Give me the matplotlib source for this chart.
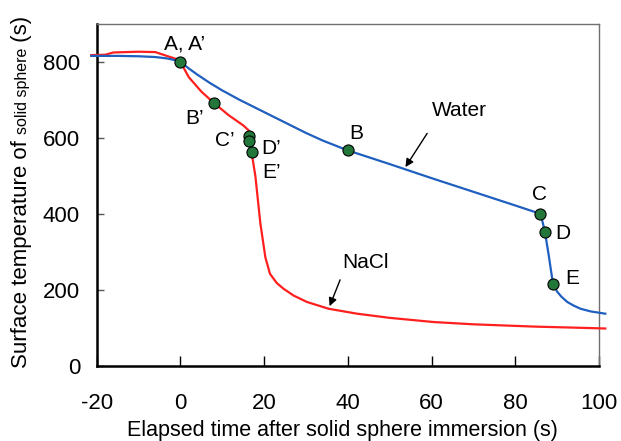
import matplotlib
matplotlib.use("Agg")
import matplotlib.pyplot as plt

plt.rcParams['font.family'] = ['Liberation Sans', 'DejaVu Sans']

# Water (blue) curve
water_t = [-21.3, -15, -10, -6, -3, -1, 0, 2, 4, 7, 10, 14, 18, 22, 26, 30, 34, 40, 50, 60, 70, 80, 86,
           86.6, 87.1, 88, 89, 90, 91, 92.4, 94, 95.6, 98, 101.5]
water_T = [816, 816, 815, 813, 809, 804, 800, 783, 767, 745, 725, 701, 679, 657, 635, 613, 593, 567, 531, 494, 458, 422, 400,
           375, 351, 290, 216, 195, 182, 168, 158, 150, 143, 137]

# NaCl (red) curve
nacl_t = [-21.3, -18, -16, -10, -6, -3, -1, 0, 2, 5, 8, 11.5, 15, 16.3, 16.5, 16.6, 17.0,
          17.9, 19.1, 20.3, 21.4, 23, 24.6, 27, 30.2, 35.4, 42.2, 50, 60.5, 70, 84.5, 95, 101.5]
nacl_T = [818, 819, 825, 827, 826, 815, 808, 800, 760, 722, 692, 660, 633, 620, 605, 591, 562,
          500, 375, 285, 242, 218, 203, 185, 168, 150, 137, 126, 115, 109, 103, 100, 98]

# Marked points
water_pts_t = [0, 40, 86, 87.1, 89]
water_pts_T = [800, 567, 400, 351, 216]
nacl_pts_t = [8, 16.4, 16.5, 17.0]
nacl_pts_T = [692, 604, 591, 562]

x_ticks = [-20, 0, 20, 40, 60, 80, 100]
y_ticks = [0, 200, 400, 600, 800]

W, H = 621, 441
fig = plt.figure(figsize=(W / 100, H / 100), dpi=100)
ax = fig.add_axes([96.7 / W, 1 - 365.7 / H, (599 - 96.7) / W, (365.7 - 24) / H])

blue = '#1f5fbf'
red = '#ff1f1f'
green = '#23773a'

ax.plot(nacl_t, nacl_T, color=red, lw=1.6, clip_on=False, zorder=3)
ax.plot(water_t, water_T, color=blue, lw=1.6, clip_on=False, zorder=3)
ax.plot(water_pts_t, water_pts_T, 'o', ms=8, mfc=green, mec='black', mew=0.8, zorder=5, clip_on=False)
ax.plot(nacl_pts_t, nacl_pts_T, 'o', ms=8, mfc=green, mec='black', mew=0.8, zorder=5, clip_on=False)

ax.set_xlim(-20, 100)
ax.set_ylim(0, 900)
ax.set_xticks(x_ticks)
ax.set_yticks(y_ticks)
ax.set_xticklabels([str(v) for v in x_ticks])
ax.set_yticklabels([str(v) for v in y_ticks])
ax.tick_params(axis='x', direction='in', length=7, width=1.0, pad=20, labelsize=16)
ax.tick_params(axis='y', direction='in', length=5, width=1.0, pad=12, labelsize=16, color='#555555')

for s in ['left', 'bottom']:
    ax.spines[s].set_linewidth(1.8)
    ax.spines[s].set_color('black')
for s in ['top', 'right']:
    ax.spines[s].set_linewidth(1.0)
    ax.spines[s].set_color('#707070')

fs = 15
labels = [("A, A\u2019", 0.9, 848), ("B\u2019", 3.4, 650), ("C\u2019", 10.5, 594),
          ("D\u2019", 21.7, 573), ("E\u2019", 21.7, 508), ("B", 41.9, 611),
          ("Water", 66.6, 671), ("C", 85.9, 451), ("D", 91.3, 348), ("E", 93.5, 229),
          ("NaCl", 44.2, 272)]
for txt, x, y in labels:
    ax.text(x, y, txt, fontsize=fs, ha='center', va='center', zorder=6)

ax.annotate('', xy=(53.4, 517), xytext=(59.3, 618),
            arrowprops=dict(arrowstyle='-|>', color='black', lw=1.0, mutation_scale=12))
ax.annotate('', xy=(35.4, 150), xytext=(38.4, 233),
            arrowprops=dict(arrowstyle='-|>', color='black', lw=1.0, mutation_scale=12))

# x label
fig.text(342.5 / W, 1 - 436 / H, "Elapsed time after solid sphere immersion (s)",
         fontsize=15.5, ha='center', va='baseline')

# y label with mixed font sizes
renderer = fig.canvas.get_renderer()
pieces = [("Surface temperature of ", 16), ("solid sphere", 11.5), (" (s)", 16)]
ybase_px = 368.0
xbase_px = 26.7
cur = ybase_px
for txt, size in pieces:
    t = fig.text(xbase_px / W, 1 - cur / H, txt, fontsize=size, rotation=90,
                 rotation_mode='anchor', ha='left', va='baseline')
    bb = t.get_window_extent(renderer=renderer)
    cur -= bb.height

fig.savefig('out.png', dpi=100)
